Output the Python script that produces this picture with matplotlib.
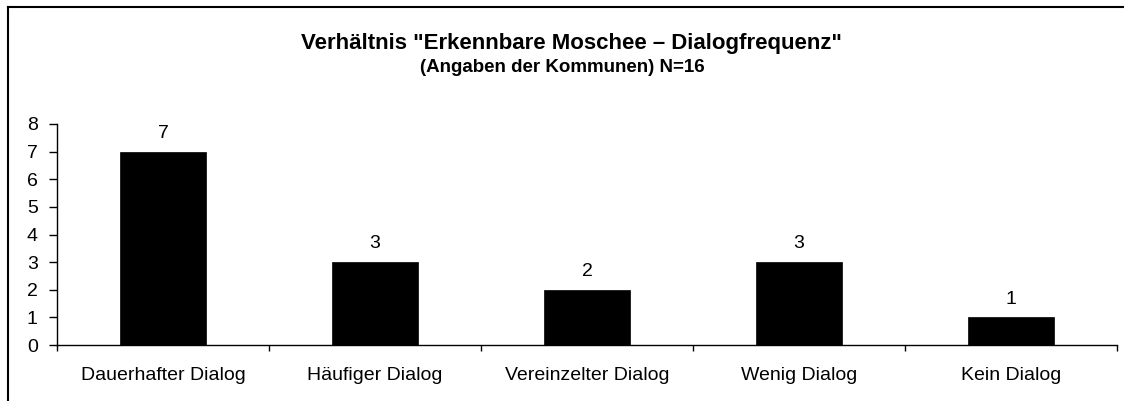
import matplotlib
matplotlib.use("Agg")
import matplotlib.pyplot as plt
from matplotlib.lines import Line2D
import numpy as np

categories = ["Dauerhafter Dialog", "Häufiger Dialog", "Vereinzelter Dialog", "Wenig Dialog", "Kein Dialog"]
values = [7, 3, 2, 3, 1]
yticks = [0, 1, 2, 3, 4, 5, 6, 7, 8]
title = 'Verhältnis "Erkennbare Moschee – Dialogfrequenz"'
subtitle = "(Angaben der Kommunen) N=16"

plt.rcParams['font.family'] = ['Liberation Sans', 'DejaVu Sans']

W, H = 1124, 401
fig = plt.figure(figsize=(W / 100, H / 100), dpi=100)
ax = fig.add_axes([57 / W, 1 - 345 / H, (1117 - 57) / W, (345 - 124) / H])

FS = 14
x = np.arange(len(categories))
ax.bar(x, values, width=0.41, color="black", edgecolor="black", linewidth=0.5)
for xi, v in zip(x, values):
    ax.annotate(str(v), (xi, v), xytext=(0, 7), textcoords="offset points",
                ha="center", va="bottom", fontsize=FS)

ax.set_xlim(-0.5, len(categories) - 0.5)
ax.set_ylim(0, 8)
ax.set_yticks(yticks)
ax.set_yticklabels([str(t) for t in yticks], fontsize=FS)
ax.set_xticks(x)
ax.set_xticklabels(categories, fontsize=FS)
ax.set_xticks(np.arange(-0.5, len(categories), 1.0), minor=True)
ax.tick_params(axis="x", which="major", length=0, pad=16)
ax.tick_params(axis="x", which="minor", length=4, width=1, direction="out")
ax.tick_params(axis="y", which="major", length=5.8, width=1, direction="out", pad=8)
for s in ["top", "right"]:
    ax.spines[s].set_visible(False)
for s in ["left", "bottom"]:
    ax.spines[s].set_linewidth(1)

fig.text(571 / W, 1 - 43 / H, title, ha="center", va="center", fontsize=16, fontweight="bold")
fig.text(562 / W, 1 - 67 / H, subtitle, ha="center", va="center", fontsize=13.5, fontweight="bold")

# outer border (extends beyond the image at right/bottom)
fig.add_artist(Line2D([8 / W, 8 / W], [1 - 7 / H, -0.1], transform=fig.transFigure, color="black", lw=1.5))
fig.add_artist(Line2D([8 / W, 1.1], [1 - 7 / H, 1 - 7 / H], transform=fig.transFigure, color="black", lw=1.5))

fig.savefig("out.png", dpi=100)
